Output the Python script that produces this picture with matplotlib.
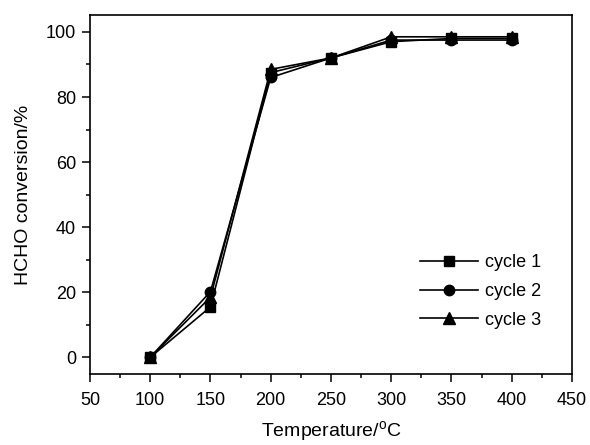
import matplotlib
matplotlib.use("Agg")
import matplotlib.pyplot as plt
from matplotlib.ticker import MultipleLocator

plt.rcParams['font.family'] = ['Liberation Sans', 'DejaVu Sans']
plt.rcParams['font.size'] = 13

temperature = [100, 150, 200, 250, 300, 350, 400]
cycle_1 = [0, 15.5, 87.5, 92, 97, 98, 98]
cycle_2 = [0, 20.2, 86, 92, 97.5, 97.5, 97.5]
cycle_3 = [0, 18.5, 88.5, 92, 98.5, 98.5, 98.5]

fig = plt.figure(figsize=(5.9, 4.45), dpi=100)
ax = fig.add_axes([0.1525, 0.159, 0.817, 0.808])

ax.plot(temperature, cycle_1, color='black', lw=1.2, marker='s', ms=7, label='cycle 1')
ax.plot(temperature, cycle_2, color='black', lw=1.2, marker='o', ms=7.5, label='cycle 2')
ax.plot(temperature, cycle_3, color='black', lw=1.2, marker='^', ms=8, label='cycle 3')

ax.set_xlim(50, 450)
ax.set_ylim(-5.2, 105.3)
ax.xaxis.set_major_locator(MultipleLocator(50))
ax.xaxis.set_minor_locator(MultipleLocator(25))
ax.yaxis.set_major_locator(MultipleLocator(20))
ax.yaxis.set_minor_locator(MultipleLocator(10))
ax.tick_params(which='major', direction='out', length=6, width=1.1, pad=4, labelsize=13)
ax.tick_params(axis='x', which='major', pad=7)
ax.tick_params(which='minor', direction='out', length=3, width=1.1)
for s in ax.spines.values():
    s.set_linewidth(1.2)

ax.set_xlabel('Temperature/$^\\mathregular{o}$C', fontsize=14, labelpad=7)
ax.set_ylabel('HCHO conversion/%', fontsize=14, labelpad=10)

ax.legend(loc='center', bbox_to_anchor=(0.81, 0.23), frameon=False, fontsize=13,
          handlelength=3.2, labelspacing=0.65, handletextpad=0.4)

fig.savefig('out.png', dpi=100)
